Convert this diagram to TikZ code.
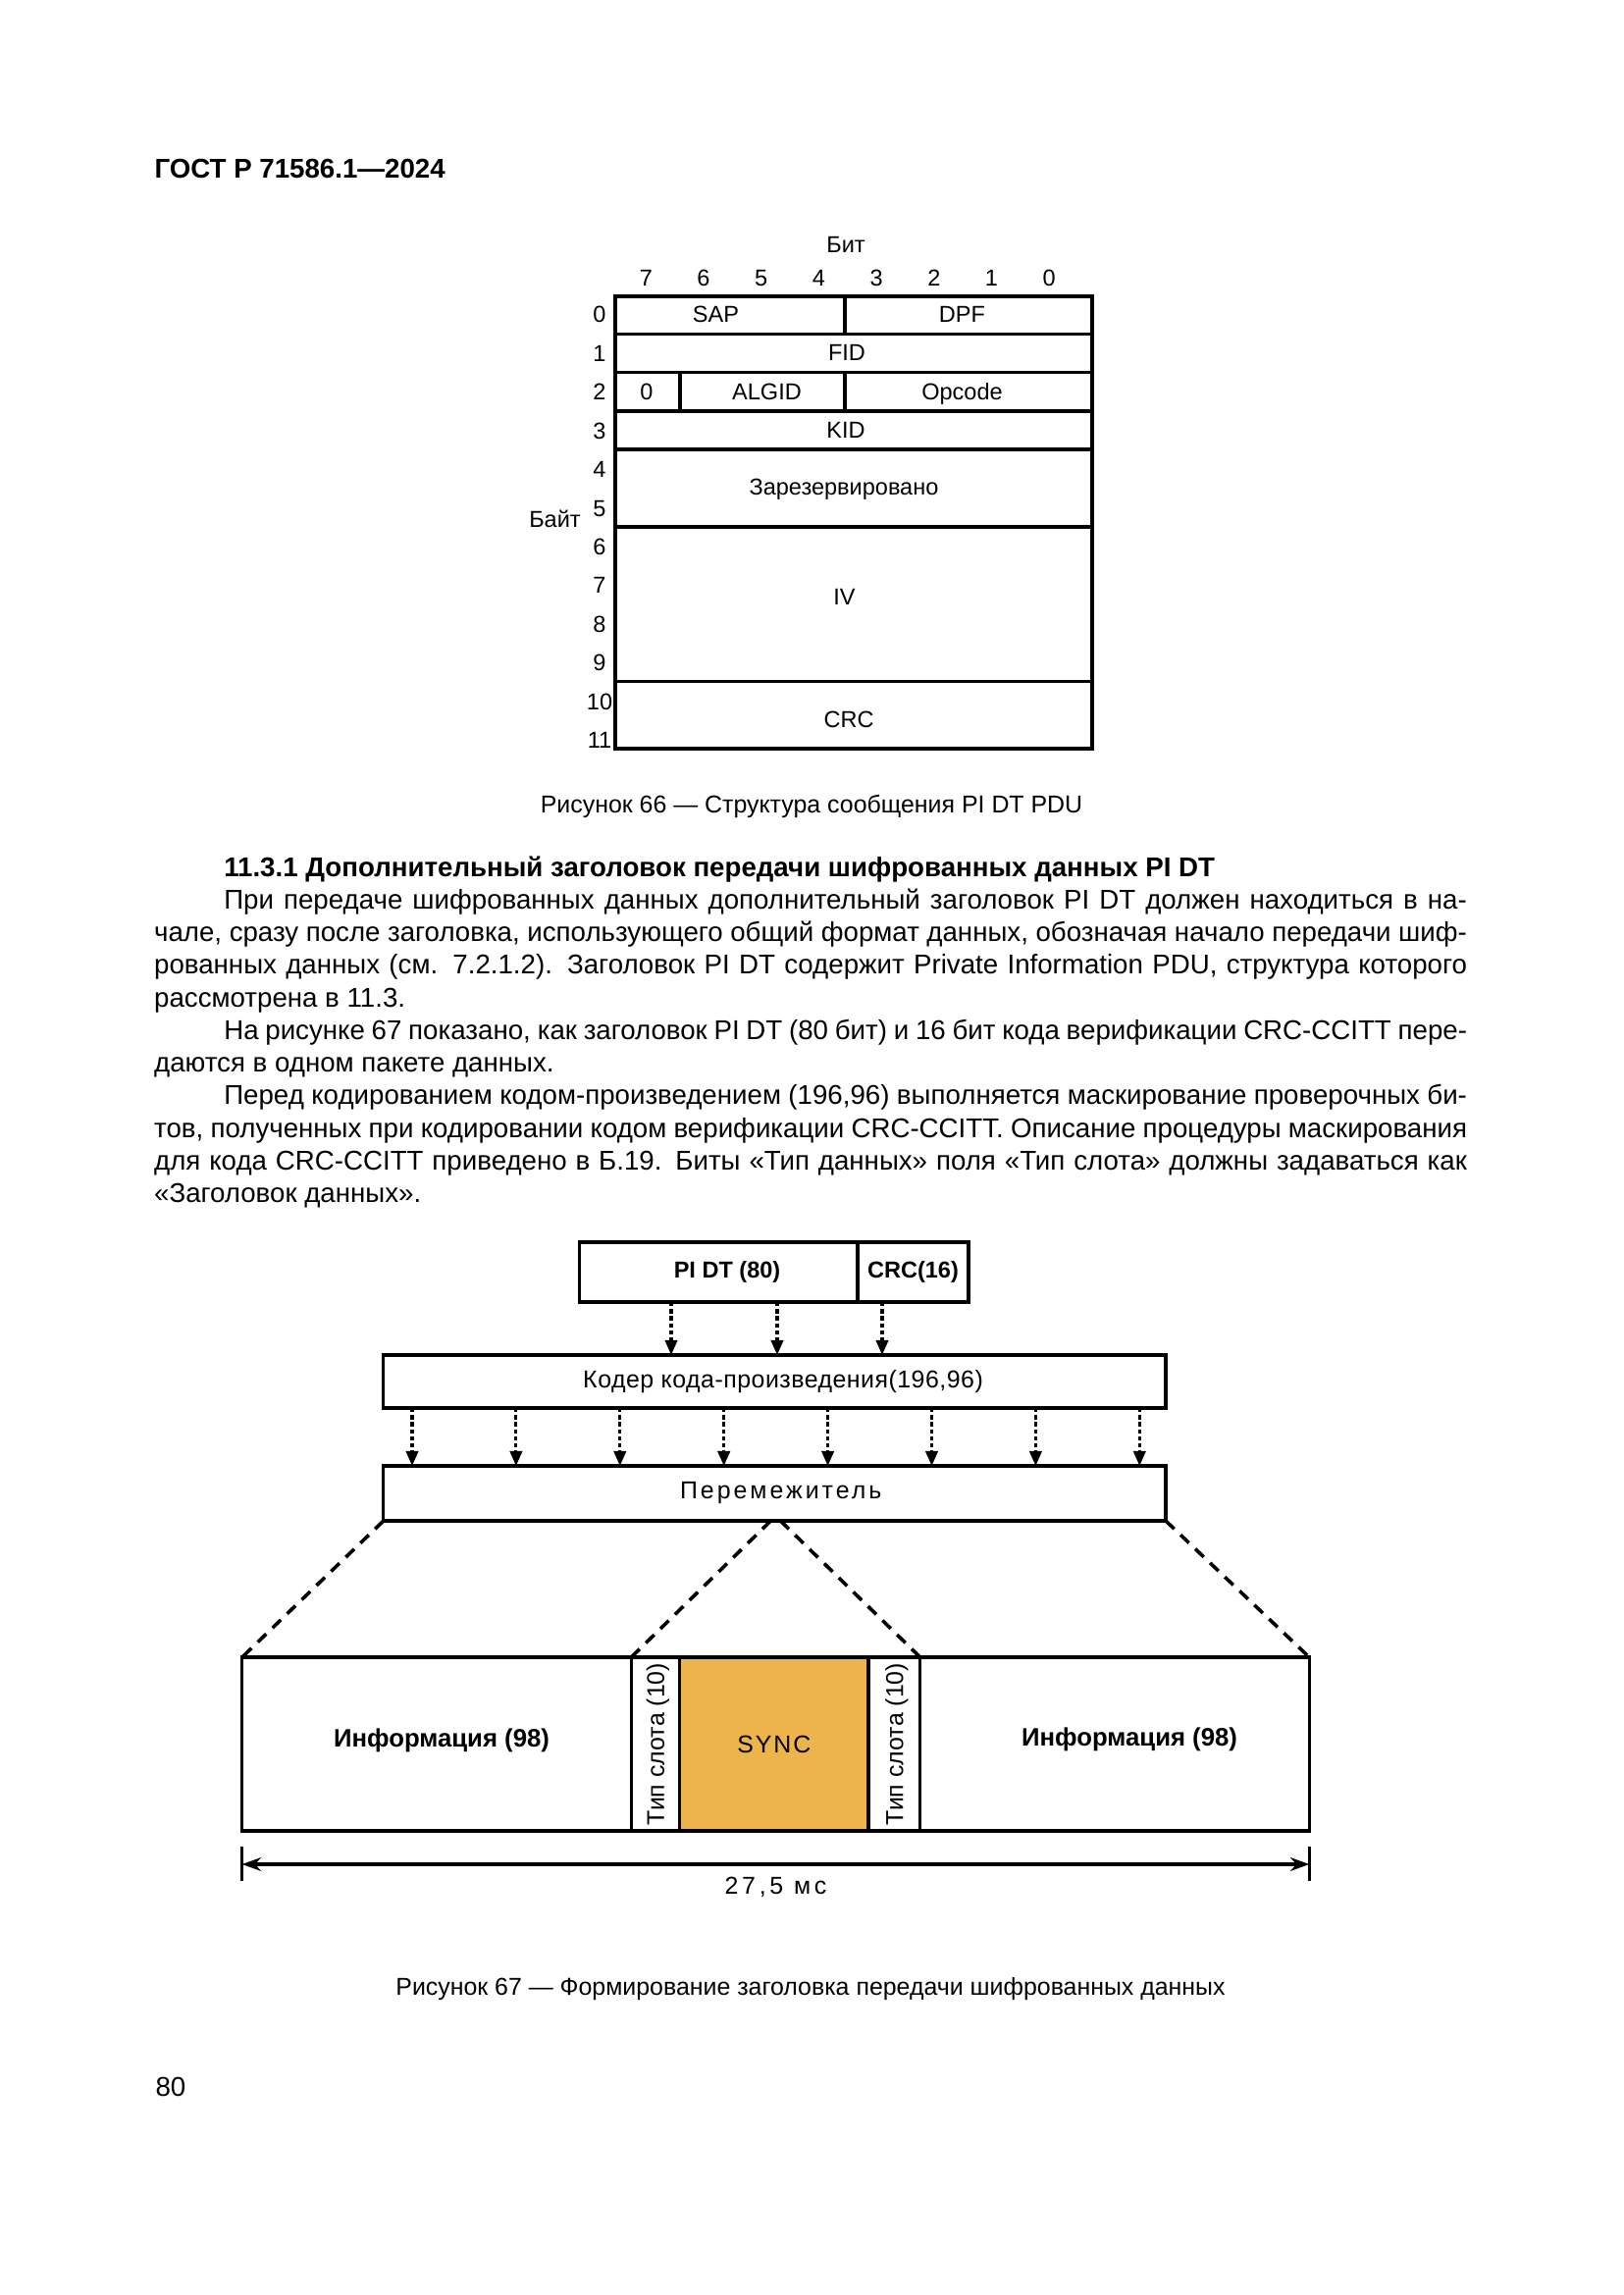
\documentclass[tikz,border=0pt]{standalone}
\usepackage{fontspec}
\setmainfont{Liberation Sans}
\usetikzlibrary{arrows.meta, positioning, calc}
\definecolor{syncfill}{HTML}{EEB44C}

\newlength{\indw}
\setlength{\indw}{25.7pt}
\newcommand{\jline}[1]{\makebox[\linewidth][s]{#1}}

\begin{document}
\begin{tikzpicture}[x=0.127mm, y=-0.127mm,
    tabline/.style={line width=1.35pt},
    tlbl/.style={font=\fontsize{8.5}{10}\selectfont, inner sep=0pt, text height=6.1pt, text depth=0pt},
    box/.style={draw, line width=1.1pt, anchor=north west, inner sep=0pt, outer sep=0pt},
    slot/.style={draw, line width=1.2pt, anchor=north west, inner sep=0pt, outer sep=0pt,
                 minimum height=177*0.127mm},
    flbl/.style={font=\fontsize{9}{11}\selectfont, inner sep=0pt, text height=6.45pt, text depth=0pt},
    flow/.style={line width=1.1pt, dash pattern=on 1.6pt off 1pt, -{Triangle[length=5.5pt, width=4.5pt]}},
    zoomline/.style={line width=1.3pt, dash pattern=on 4.3pt off 3.2pt},
    dimline/.style={line width=1.4pt, {Stealth[length=7pt, width=5pt]}-{Stealth[length=7pt, width=5pt]}},
    caption/.style={font=\fontsize{9}{11}\selectfont, inner sep=0pt, anchor=base},
]
    \path[fill=white] (0,0) rectangle (1654,2339);

    % Page head
    \node[font=\fontsize{10}{12}\selectfont\bfseries, inner sep=0pt, anchor=base west] (head) at (157,182) {ГОСТ Р 71586.1—2024};

    % Figure 66: byte table
    \draw[tabline] (626.7,302) rectangle (1112.9,763);
    \foreach \y in {340.5,379.5,419,458,537,694.5}
        \draw[tabline] (626.7,\y) -- (1112.9,\y);
    \draw[tabline] (861,302) -- (861,340.5) (861,379.5) -- (861,419) (692.7,379.5) -- (692.7,419);

    \node[tlbl] (bit) at (862,249) {Бит};
    \foreach \b [count=\i from 0] in {7,6,5,4,3,2,1,0}
        \node[tlbl] (bit\b) at (658.3+\i*58.7,283) {\b};
    \foreach \r in {0,...,11}
        \node[tlbl] (byte\r) at (611,320.4+\r*39.45) {\r};
    \node[tlbl] (byte) at (565.5,529) {Байт};

    \node[tlbl] (sap) at (729.5,320.4) {SAP};
    \node[tlbl] (dpf) at (980.5,320.4) {DPF};
    \node[tlbl] (fid) at (863,359.5) {FID};
    \node[tlbl] (zero) at (659,399) {0};
    \node[tlbl] (algid) at (781.5,399) {ALGID};
    \node[tlbl] (opcode) at (980.5,399) {Opcode};
    \node[tlbl] (kid) at (862,438.5) {KID};
    \node[tlbl] (rsv) at (860,496.5) {Зарезервировано};
    \node[tlbl] (iv) at (860.5,608) {IV};
    \node[tlbl] (crcf) at (865,733.5) {CRC};

    \node[caption] (cap66) at (827,828) {Рисунок 66 — Структура сообщения PI DT PDU};

    % Text
    \node[inner sep=0pt, anchor=base west] (body) at (156.6,893) {\parbox[t]{169.9mm}{%
        \fontsize{10}{12.02}\selectfont
        \hspace*{\indw}\textbf{11.3.1 Дополнительный заголовок передачи шифрованных данных PI DT}\\
        \jline{\hspace*{\indw}При передаче шифрованных данных дополнительный заголовок PI DT должен находиться в на-}\\
        \jline{чале, сразу после заголовка, использующего общий формат данных, обозначая начало передачи шиф-}\\
        \jline{рованных данных (см. 7.2.1.2). Заголовок PI DT содержит Private Information PDU, структура которого}\\
        рассмотрена в 11.3.\\
        \jline{\hspace*{\indw}На рисунке 67 показано, как заголовок PI DT (80 бит) и 16 бит кода верификации CRC-CCITT пере-}\\
        даются в одном пакете данных.\\
        \jline{\hspace*{\indw}Перед кодированием кодом-произведением (196,96) выполняется маскирование проверочных би-}\\
        \jline{тов, полученных при кодировании кодом верификации CRC-CCITT. Описание процедуры маскирования}\\
        \jline{для кода CRC-CCITT приведено в Б.19. Биты «Тип данных» поля «Тип слота» должны задаваться как}\\
        «Заголовок данных».}};

    % Figure 67
    \node[box, minimum width=283.3*0.127mm, minimum height=61*0.127mm,
          font=\fontsize{8.5}{10}\selectfont\bfseries] (pidt) at (590.7,1266) {\hspace*{2.2mm}PI DT (80)};
    \node[box, minimum width=113*0.127mm, minimum height=61*0.127mm,
          font=\fontsize{8.5}{10}\selectfont\bfseries, right=0pt of pidt] (crc) {CRC(16)};
    \node[box, minimum width=797.2*0.127mm, minimum height=54*0.127mm,
          font=\fontsize{9}{11}\selectfont] (coder) at (390.8,1381) {\hspace*{2.2mm}\addfontfeatures{LetterSpace=2}Кодер кода-произведения(196,96)};
    \node[box, minimum width=797.2*0.127mm, minimum height=56*0.127mm,
          font=\fontsize{9}{11}\selectfont] (perm) at (390.8,1494) {\hspace*{1.6mm}\addfontfeatures{LetterSpace=12}Перемежитель};

    \coordinate (in1) at (684,0);
    \coordinate (in2) at (792,0);
    \coordinate (in3) at (899,0);
    \draw[flow] (pidt.south -| in1) -- (coder.north -| in1);
    \draw[flow] (pidt.south -| in2) -- (coder.north -| in2);
    \draw[flow] (crc.south -| in3) -- (coder.north -| in3);
    \foreach \i in {0,...,7} {
        \coordinate (cx\i) at (420+\i*105.9,0);
        \draw[flow] (coder.south -| cx\i) -- (perm.north -| cx\i);
    }

    % Slot
    \node[slot, minimum width=396.6*0.127mm] (info1) at (246.7,1689) {};
    \node[slot, minimum width=49.4*0.127mm, right=0pt of info1] (tip1) {};
    \node[slot, fill=syncfill, minimum width=192.3*0.127mm, right=0pt of tip1,
          font=\fontsize{9}{11}\selectfont] (sync) {\addfontfeatures{LetterSpace=8}SYNC};
    \node[slot, minimum width=52.7*0.127mm, right=0pt of sync] (tip2) {};
    \node[slot, minimum width=396.6*0.127mm, right=0pt of tip2] (info2) {};

    \node[flbl, font=\fontsize{9.3}{11}\selectfont\bfseries] (info1txt) at (450,1772) {Информация (98)};
    \node[flbl, font=\fontsize{9.3}{11}\selectfont\bfseries] (info2txt) at (1151,1771) {Информация (98)};
    \node[flbl, rotate=90] (tip1txt) at (tip1.center) {Тип слота (10)};
    \node[flbl, rotate=90] (tip2txt) at (tip2.center) {Тип слота (10)};

    \coordinate (apexl) at ($(perm.south)+(-4,0)$);
    \coordinate (apexr) at ($(perm.south)+(6,0)$);
    \draw[zoomline] (perm.south west) -- (info1.north west);
    \draw[zoomline] (apexl) -- (tip1.north west);
    \draw[zoomline] (apexr) -- (tip2.north east);
    \draw[zoomline] (perm.south east) -- (info2.north east);

    % Duration
    \coordinate (diml) at ($(info1.south west)+(0,34)$);
    \coordinate (dimr) at ($(info2.south east)+(0,34)$);
    \draw[line width=1.2pt] ($(diml)+(0,-18)$) -- ($(diml)+(0,17)$);
    \draw[line width=1.2pt] ($(dimr)+(0,-18)$) -- ($(dimr)+(0,17)$);
    \draw[dimline] (diml) -- node[flbl, below=4pt] (dur) {\addfontfeatures{LetterSpace=15}27,5 мс} (dimr);

    \node[caption] (cap67) at (826,2033) {Рисунок 67 — Формирование заголовка передачи шифрованных данных};

    \node[font=\fontsize{10}{12}\selectfont, inner sep=0pt, anchor=base west] (pageno) at (158,2136) {80};
\end{tikzpicture}
\end{document}
